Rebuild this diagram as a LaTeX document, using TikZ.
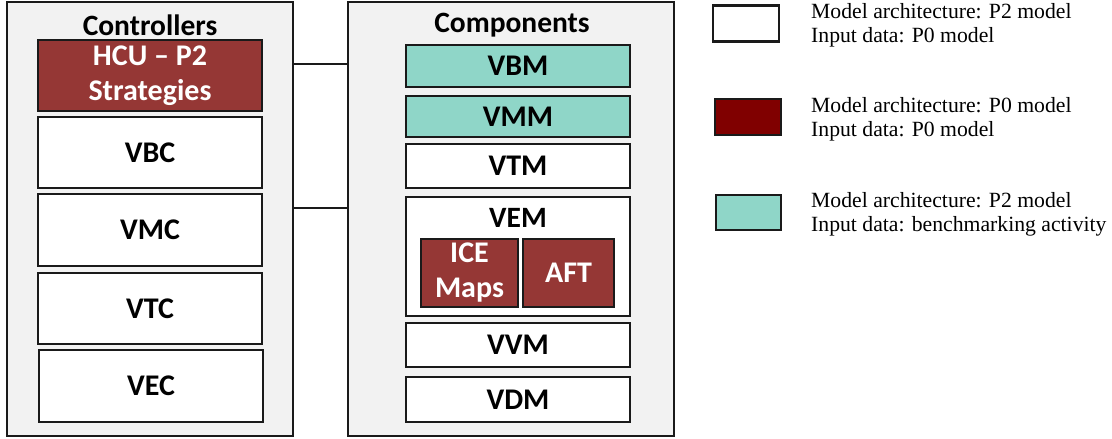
\documentclass[tikz,border=0pt]{standalone}
\usepackage{fontspec}
\setmainfont{Carlito}
\newfontfamily\legfont{Liberation Serif}
\definecolor{outerfill}{HTML}{F2F2F2}
\definecolor{darkred}{HTML}{953735}
\definecolor{legred}{HTML}{800000}
\definecolor{teal}{HTML}{8FD6C8}
\definecolor{edge}{HTML}{1A1A1A}
\tikzset{
  outer/.style={draw=edge, line width=2pt, fill=outerfill, inner sep=0pt},
  blk/.style={draw=edge, line width=2.2pt, fill=white, inner sep=0pt, align=center,
    font=\bfseries\fontsize{30}{35}\selectfont},
  redblk/.style={blk, fill=darkred, text=white},
  tealblk/.style={blk, fill=teal},
  title/.style={inner sep=0pt, font=\bfseries\fontsize{29.5}{35}\selectfont},
  legbox/.style={draw=edge, line width=2.2pt, inner sep=0pt, minimum width=66pt, minimum height=36pt},
  legtext/.style={anchor=west, inner sep=0pt, align=left, font=\legfont\fontsize{21.7}{23.5}\selectfont},
  conn/.style={draw=edge, line width=2pt}
}
\begin{document}
\begin{tikzpicture}[x=1pt,y=-1pt]
\useasboundingbox (0,0) rectangle (1112,439);
% outer boxes
\node[outer, minimum width=286pt, minimum height=434pt] (ctrl) at (150,219) {};
\node[outer, minimum width=326pt, minimum height=434pt] (comp) at (511,219) {};
\node[title] (ctrlt) at (150,25) {Controllers};
\node[title] (compt) at (512,25) {Components};
% controllers
\node[redblk, minimum width=224pt, minimum height=71pt] (hcu) at (150,75.5) {HCU – P2\\Strategies};
\node[blk, minimum width=224pt, minimum height=71pt] (vbc) at (150,152.5) {VBC};
\node[blk, minimum width=224pt, minimum height=72pt] (vmc) at (150,230) {VMC};
\node[blk, minimum width=224pt, minimum height=71pt] (vtc) at (150,308.5) {VTC};
\node[blk, minimum width=224pt, minimum height=72pt] (vec) at (151,386) {VEC};
% components
\node[tealblk, minimum width=224pt, minimum height=42pt] (vbm) at (518,66) {VBM};
\node[tealblk, minimum width=224pt, minimum height=41pt] (vmm) at (518,116.5) {VMM};
\node[blk, minimum width=224pt, minimum height=44pt] (vtm) at (518,166) {VTM};
\node[blk, minimum width=224pt, minimum height=119pt] (vem) at (518,256.5) {};
\node[title] (vemt) at (518,218) {VEM};
\node[redblk, minimum width=97pt, minimum height=68pt] (ice) at (469.5,273) {ICE\\Maps};
\node[redblk, minimum width=91pt, minimum height=68pt] (aft) at (568.5,273) {AFT};
\node[blk, minimum width=224pt, minimum height=44pt] (vvm) at (518,345) {VVM};
\node[blk, minimum width=224pt, minimum height=45pt] (vdm) at (518,399.5) {VDM};
% connectors
\draw[conn] (ctrl.east |- 0,64) -- (comp.west |- 0,64);
\draw[conn] (ctrl.east |- 0,208) -- (comp.west |- 0,208);
% legend
\node[legbox, fill=white] (lw) at (746,23.5) {};
\node[legbox, fill=legred] (lr) at (748,117) {};
\node[legbox, fill=teal, minimum width=65pt, minimum height=35pt] (lt) at (748.5,212.5) {};
\node[legtext] (lwt) at (811,25.5) {Model architecture: P2 model\\Input data: P0 model};
\node[legtext] (lrt) at (811,119.5) {Model architecture: P0 model\\Input data: P0 model};
\node[legtext] (ltt) at (811,214.5) {Model architecture: P2 model\\Input data: benchmarking activity};
\end{tikzpicture}
\end{document}
